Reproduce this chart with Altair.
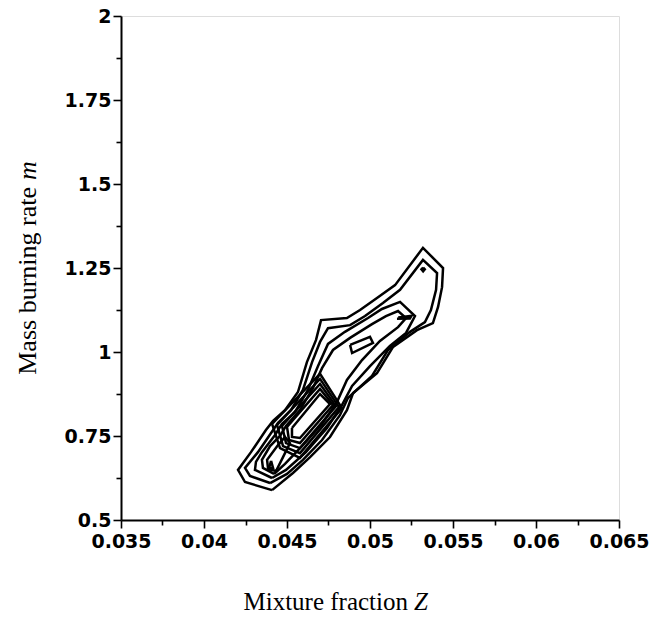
import altair as alt
import pandas as pd

# ---- axis ticks ----
x_major = [0.035, 0.04, 0.045, 0.05, 0.055, 0.06, 0.065]
x_minor = [0.0375, 0.0425, 0.0475, 0.0525, 0.0575, 0.0625]
y_major = [0.5, 0.75, 1.0, 1.25, 1.5, 1.75, 2.0]
y_minor = [0.625, 0.875, 1.125, 1.375, 1.625, 1.875]

# ---- contour polylines (Z, m) ----
c1_z = [0.0441, 0.04247, 0.04205, 0.04283, 0.04373, 0.04416, 0.04488, 0.04566, 0.0462, 0.04675,
        0.04705, 0.04861, 0.0494, 0.05042, 0.05151, 0.05319, 0.0544, 0.05434, 0.0541, 0.05379,
        0.05283, 0.05139, 0.05042, 0.04898, 0.04861, 0.04759, 0.04639, 0.04536]
c1_m = [0.589, 0.613, 0.649, 0.702, 0.768, 0.795, 0.827, 0.881, 0.970, 1.036,
        1.095, 1.101, 1.125, 1.161, 1.199, 1.310, 1.250, 1.193, 1.134, 1.086,
        1.065, 1.015, 0.937, 0.878, 0.827, 0.747, 0.687, 0.640]

c2_z = [0.04398, 0.04277, 0.04247, 0.04325, 0.04404, 0.04446, 0.04524, 0.04596, 0.04651, 0.04699,
        0.04747, 0.0488, 0.0497, 0.05078, 0.05181, 0.05319, 0.05404, 0.05398, 0.05367, 0.05331,
        0.05241, 0.05108, 0.05012, 0.04867, 0.04819, 0.04711, 0.04596, 0.045]
c2_m = [0.610, 0.631, 0.655, 0.702, 0.759, 0.789, 0.827, 0.887, 0.970, 1.030,
        1.071, 1.080, 1.107, 1.146, 1.185, 1.274, 1.235, 1.185, 1.125, 1.089,
        1.060, 1.006, 0.929, 0.863, 0.812, 0.738, 0.679, 0.637]

c3_z = [0.0441, 0.04307, 0.04313, 0.04349, 0.04428, 0.0447, 0.04548, 0.04626, 0.04687, 0.04747,
        0.04849, 0.04988, 0.05072, 0.05181, 0.05271, 0.05217, 0.0512, 0.05, 0.04892, 0.04831,
        0.04741, 0.04614, 0.04494]
c3_m = [0.625, 0.649, 0.673, 0.702, 0.753, 0.786, 0.821, 0.887, 0.958, 1.024,
        1.060, 1.101, 1.128, 1.149, 1.107, 1.057, 1.018, 0.958, 0.899, 0.842,
        0.774, 0.702, 0.649]

c4_z = [0.04422, 0.04355, 0.04349, 0.04398, 0.04458, 0.04494, 0.04578, 0.04657, 0.04711, 0.04777,
        0.0488, 0.05012, 0.05096, 0.05169, 0.05217, 0.05169, 0.0506, 0.04952, 0.04861, 0.04801,
        0.04711, 0.0459, 0.04488]
c4_m = [0.637, 0.655, 0.679, 0.720, 0.750, 0.780, 0.827, 0.893, 0.952, 1.006,
        1.042, 1.083, 1.107, 1.122, 1.101, 1.074, 1.033, 0.976, 0.917, 0.851,
        0.786, 0.720, 0.667]

c5_z = [0.04386, 0.0438, 0.04446, 0.04488, 0.04518, 0.04476, 0.04434]
c5_m = [0.652, 0.679, 0.723, 0.747, 0.729, 0.687, 0.646]

tri_z = [0.04404, 0.04416, 0.04392]
tri_m = [0.676, 0.655, 0.655]

ring0_z = [0.0441, 0.04699, 0.04831, 0.04578, 0.04458]
ring0_m = [0.786, 0.935, 0.833, 0.685, 0.714]
ring1_z = [0.0444, 0.04699, 0.04813, 0.04578, 0.04476]
ring1_m = [0.783, 0.920, 0.836, 0.699, 0.720]
ring2_z = [0.0447, 0.04699, 0.04795, 0.04578, 0.04494]
ring2_m = [0.780, 0.905, 0.839, 0.714, 0.729]
ring3_z = [0.0450, 0.04699, 0.04777, 0.04578, 0.04512]
ring3_m = [0.777, 0.890, 0.842, 0.729, 0.738]
ring4_z = [0.0453, 0.04699, 0.04759, 0.04578, 0.0453]
ring4_m = [0.774, 0.875, 0.845, 0.744, 0.747]

lozenge_z = [0.0488, 0.0500, 0.05018, 0.04892]
lozenge_m = [1.021, 1.045, 1.027, 0.997]

dash_z = [0.0517, 0.0525, 0.0524, 0.0517]
dash_m = [1.103, 1.108, 1.100, 1.099]

dot_z = [0.0532, 0.0533, 0.0532, 0.0531]
dot_m = [1.251, 1.246, 1.240, 1.246]

contours = [
    ("c1", c1_z, c1_m), ("c2", c2_z, c2_m), ("c3", c3_z, c3_m), ("c4", c4_z, c4_m),
    ("c5", c5_z, c5_m), ("tri", tri_z, tri_m),
    ("r0", ring0_z, ring0_m), ("r1", ring1_z, ring1_m), ("r2", ring2_z, ring2_m),
    ("r3", ring3_z, ring3_m), ("r4", ring4_z, ring4_m),
    ("loz", lozenge_z, lozenge_m), ("dash", dash_z, dash_m), ("dot", dot_z, dot_m),
]

rows = []
for name, zs, ms in contours:
    pts = list(zip(zs, ms)) + [(zs[0], ms[0])]
    for i, (z, m) in enumerate(pts):
        rows.append({"c": name, "i": i, "Z": z, "m": m})
df = pd.DataFrame(rows)

x_minor_test = "abs(datum.value*200 - round(datum.value*200)) > 0.001"
y_minor_test = "abs(datum.value*4 - round(datum.value*4)) > 0.001"

x_axis = alt.Axis(
    values=sorted(x_major + x_minor), title=None, grid=False,
    labelExpr=f"{x_minor_test} ? '' : toString(round(datum.value*1000)/1000)",
    tickSize={"condition": {"test": x_minor_test, "value": 5}, "value": 8},
    labelFont="DejaVu Sans", labelFontWeight="bold", labelFontSize=19, labelColor="black",
    labelPadding=4, domainColor="black", domainWidth=2, tickColor="black", tickWidth=1.6,
    labelFlush=False, labelOverlap=False,
)
y_axis = alt.Axis(
    values=sorted(y_major + y_minor), title=None, grid=False,
    labelExpr=f"{y_minor_test} ? '' : toString(datum.value)",
    tickSize={"condition": {"test": y_minor_test, "value": 5}, "value": 8},
    labelFont="DejaVu Sans", labelFontWeight="bold", labelFontSize=19, labelColor="black",
    labelPadding=2, domainColor="black", domainWidth=2, tickColor="black", tickWidth=1.6,
    labelFlush=False, labelOverlap=False,
)

lines = alt.Chart(df).mark_line(color="black", strokeWidth=2.5, strokeJoin="miter").encode(
    x=alt.X("Z:Q", scale=alt.Scale(domain=[0.035, 0.065], nice=False, zero=False), axis=x_axis),
    y=alt.Y("m:Q", scale=alt.Scale(domain=[0.5, 2.0], nice=False, zero=False), axis=y_axis),
    detail="c:N",
    order="i:Q",
)

def label(txt, x, y, align, style="normal", angle=0, size=25):
    return alt.Chart(pd.DataFrame({"t": [txt]})).mark_text(
        font="Liberation Serif", fontSize=size, fontStyle=style, color="black",
        align=align, baseline="alphabetic", angle=angle,
    ).encode(text="t:N", x=alt.value(x), y=alt.value(y))

xt1 = label("Mixture fraction", 287, 594, "right")
xt2 = label("Z", 293, 594, "left", "italic")
yt1 = label("Mass burning rate", -85, 171, "right", angle=270, size=26)
yt2 = label("m", -85, 164, "left", "italic", angle=270, size=26)

chart = alt.layer(lines, xt1, xt2, yt1, yt2).properties(
    width=498, height=504,
    padding={"left": 121, "top": 16, "right": 42, "bottom": 97},
    autosize="none",
).configure_view(stroke=None).configure(background="white")

chart.save("out.html", embed_options={"renderer": "svg", "actions": False})
